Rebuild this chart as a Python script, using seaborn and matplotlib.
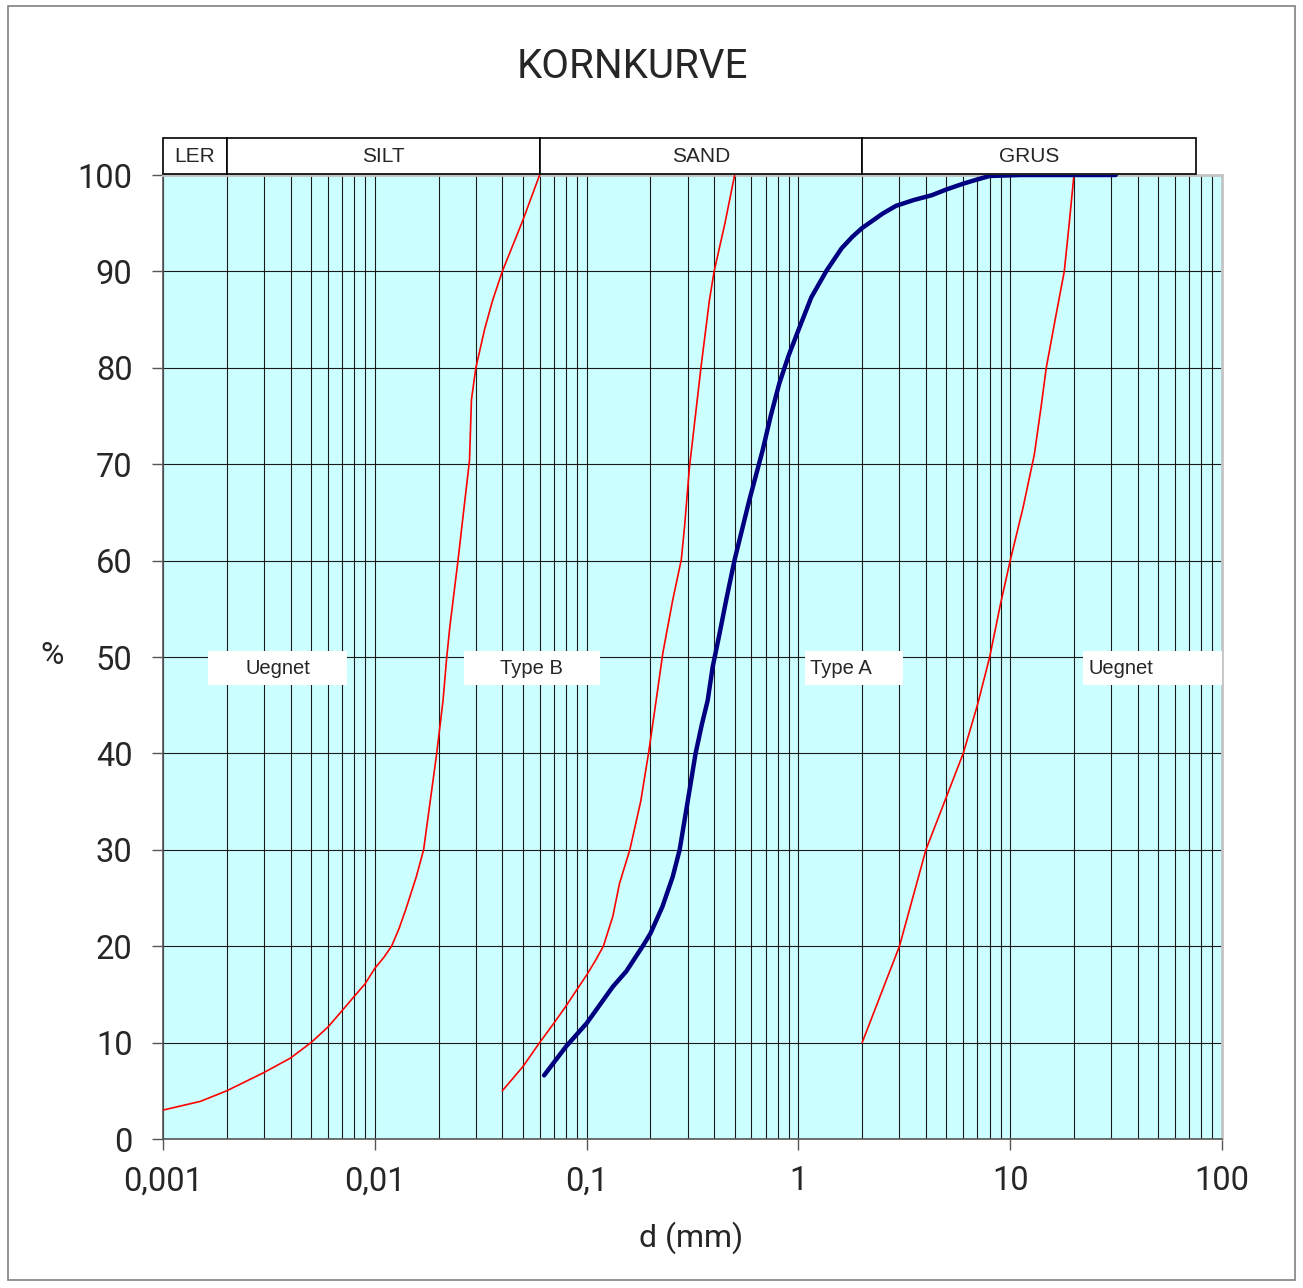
import matplotlib
matplotlib.use("Agg")
import matplotlib.pyplot as plt
import matplotlib.ticker as mticker
from matplotlib.patches import Rectangle
import numpy as np
import pandas as pd
import seaborn as sns

# Grensekurver (rode) - d i mm, gjennomgang i %
grense1_d = [0.001, 0.0015, 0.002, 0.003, 0.004, 0.005, 0.006, 0.007, 0.008, 0.009, 0.01,
             0.011, 0.012, 0.013, 0.014, 0.0157, 0.017, 0.0196, 0.021, 0.0218, 0.0226,
             0.0247, 0.0261, 0.028, 0.0286, 0.030, 0.033, 0.036, 0.04, 0.05, 0.06]
grense1_p = [3, 3.9, 5, 6.9, 8.4, 10, 11.6, 13.3, 14.8, 16.1, 17.7,
             18.8, 20, 21.8, 23.8, 27.2, 30, 40, 45.5, 49.7, 53.1,
             60, 64.6, 70.4, 76.7, 80, 84, 87, 90, 95.3, 100]

grense2_d = [0.04, 0.05, 0.06, 0.07, 0.08, 0.09, 0.1, 0.11, 0.12, 0.133, 0.143, 0.16,
             0.18, 0.196, 0.213, 0.229, 0.255, 0.28, 0.29, 0.306, 0.347, 0.38, 0.4, 0.45, 0.5]
grense2_p = [5, 7.5, 10, 12, 13.8, 15.5, 17, 18.5, 20, 23.1, 26.5, 30,
             35, 40, 45.5, 50.4, 55.9, 60.1, 63.5, 69.7, 80.1, 87, 90, 95, 100]

grense3_d = [2, 3, 4, 5, 6, 7, 8, 9, 10, 11.5, 13, 14, 14.8, 16.4, 18, 19, 20]
grense3_p = [10, 20, 30, 35.5, 40, 45, 50, 55.5, 60, 65.5, 71, 76, 80, 85.3, 90, 95, 100]

# Provekurve (bla)
prove_d = [0.063, 0.08, 0.1, 0.133, 0.154, 0.184, 0.2, 0.228, 0.255, 0.275, 0.3, 0.327,
           0.35, 0.373, 0.394, 0.425, 0.456, 0.5, 0.587, 0.679, 0.74, 0.813, 0.9, 1.0,
           1.15, 1.36, 1.6, 1.8, 2.0, 2.5, 2.89, 3.5, 4.26, 5.0, 6.0, 6.9, 8.0,
           11.2, 16, 22.4, 31.5]
prove_p = [6.6, 9.6, 12, 15.8, 17.4, 20, 21.3, 24.1, 27.2, 30, 35, 40,
           43, 45.5, 49, 52.5, 55.9, 60.1, 66.3, 71.5, 75, 78.4, 81.3, 83.9,
           87.3, 90.1, 92.4, 93.6, 94.5, 96.0, 96.8, 97.4, 97.9, 98.5, 99.1, 99.5, 99.9,
           100, 100, 100, 100]

fraksjoner = ["LER", "SILT", "SAND", "GRUS"]
fraksjon_grenser = [0.001, 0.002, 0.06, 2, 75]

x_ticks = [0.001, 0.01, 0.1, 1, 10, 100]
x_labels = ["0,001", "0,01", "0,1", "1", "10", "100"]
y_ticks = list(range(0, 101, 10))


def main():
    sns.set_theme(style="white")
    plt.rcParams['font.family'] = ['Roboto', 'DejaVu Sans']

    fig = plt.figure(figsize=(13.03, 12.88), dpi=100)
    ax = fig.add_axes([163 / 1303, 149 / 1288, 1059 / 1303, 964 / 1288])
    ax.set_facecolor('#ccffff')

    df_red = pd.concat([
        pd.DataFrame({'d': grense1_d, 'p': grense1_p, 'kurve': 'g1'}),
        pd.DataFrame({'d': grense2_d, 'p': grense2_p, 'kurve': 'g2'}),
        pd.DataFrame({'d': grense3_d, 'p': grense3_p, 'kurve': 'g3'}),
    ])
    df_prove = pd.DataFrame({'d': prove_d, 'p': prove_p})

    sns.lineplot(data=df_red, x='d', y='p', units='kurve', estimator=None,
                 color='#ff0000', lw=1.2, ax=ax, zorder=4)
    sns.lineplot(data=df_prove, x='d', y='p', estimator=None,
                 color='#000080', lw=3.2, ax=ax, zorder=5, solid_capstyle='round',
                 solid_joinstyle='round')

    ax.set_xscale('log')
    ax.set_xlim(0.001, 100)
    ax.set_ylim(0, 100)
    ax.set_xticks(x_ticks)
    ax.set_xticklabels(x_labels)
    ax.xaxis.set_minor_locator(mticker.LogLocator(base=10, subs=np.arange(2, 10), numticks=20))
    ax.xaxis.set_minor_formatter(mticker.NullFormatter())
    ax.set_yticks(y_ticks)
    ax.set_xlabel('')
    ax.set_ylabel('')

    ax.grid(True, which='both', axis='x', color='#1a1a1a', lw=0.8)
    ax.grid(True, which='major', axis='y', color='#1a1a1a', lw=0.8)
    ax.set_axisbelow(True)

    ax.tick_params(axis='both', which='major', labelsize=23.5, length=8, width=1,
                   color='#555555', direction='out', bottom=True, left=True)
    ax.tick_params(axis='x', which='major', pad=11)
    ax.tick_params(axis='y', which='major', pad=14)
    ax.tick_params(axis='x', which='minor', length=0)

    for side in ['left', 'bottom']:
        ax.spines[side].set_color('#555555')
        ax.spines[side].set_linewidth(1.2)
    for side in ['top', 'right']:
        ax.spines[side].set_color('#c4c4c4')
        ax.spines[side].set_linewidth(2)

    # fraksjonsbokser over diagrammet
    trans = ax.get_xaxis_transform()
    for i, navn in enumerate(fraksjoner):
        x0, x1 = fraksjon_grenser[i], fraksjon_grenser[i + 1]
        ax.add_patch(Rectangle((x0, 1.001), x1 - x0, 0.0375, transform=trans,
                               facecolor='white', edgecolor='black', lw=1.2, clip_on=False, zorder=6))
        ax.text(np.sqrt(x0 * x1), 1.0195, navn, transform=trans, ha='center', va='center',
                fontsize=15, family=['Liberation Sans', 'DejaVu Sans'], zorder=7)

    # sone-etiketter
    soner = [("Uegnet", 0.001625, 0.00743, 0.00349, 'center'),
             ("Type B", 0.0263, 0.116, 0.0551, 'center'),
             ("Type A", 1.079, 3.13, 1.14, 'left'),
             ("Uegnet", 22.1, 100, 23.3, 'left')]
    for tekst, x0, x1, xt, ha in soner:
        ax.add_patch(Rectangle((x0, 47.1), x1 - x0, 3.5, facecolor='white',
                               edgecolor='none', zorder=6))
        ax.text(xt, 48.8, tekst, ha=ha, va='center', fontsize=14.5,
                family=['Liberation Sans', 'DejaVu Sans'], zorder=7)

    fig.text(632 / 1303, 1 - 67 / 1288, 'KORNKURVE', ha='center', va='center', fontsize=29)
    fig.text(691 / 1303, 1 - 1238 / 1288, 'd (mm)', ha='center', va='center', fontsize=23)
    fig.text(52 / 1303, 1 - 655 / 1288, '%', ha='center', va='center', fontsize=23)

    fig.patches.append(Rectangle((8 / 1303, 8 / 1288), 1287 / 1303, 1274 / 1288,
                                 transform=fig.transFigure, facecolor='none',
                                 edgecolor='#808080', lw=1.2))

    fig.savefig('out.png', dpi=100, facecolor='white')
    plt.close(fig)


if __name__ == "__main__":
    main()
